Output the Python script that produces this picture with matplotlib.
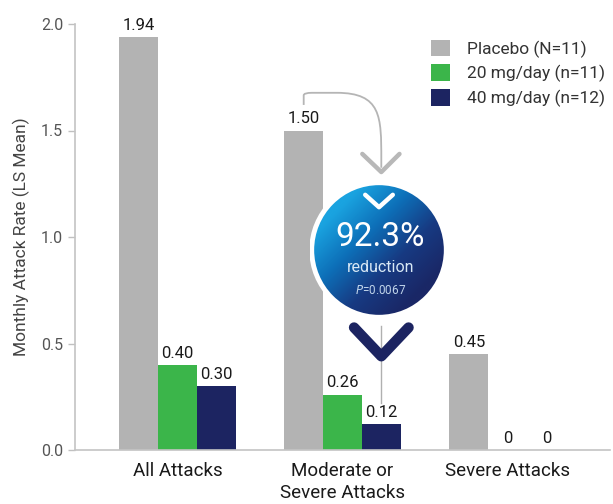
import numpy as np
import matplotlib
matplotlib.use('Agg')
import matplotlib.pyplot as plt
from matplotlib.patches import Circle
from matplotlib.path import Path
from matplotlib.patches import PathPatch
from matplotlib.colors import LinearSegmentedColormap

plt.rcParams['font.family'] = ['Roboto', 'DejaVu Sans']

# data
categories = ['All Attacks', 'Moderate or\nSevere Attacks', 'Severe Attacks']
series_names = ['Placebo (N=11)', '20 mg/day (n=11)', '40 mg/day (n=12)']
placebo = [1.94, 1.50, 0.45]
dose20 = [0.40, 0.26, 0]
dose40 = [0.30, 0.12, 0]
labels_placebo = ['1.94', '1.50', '0.45']
labels_20 = ['0.40', '0.26', '0']
labels_40 = ['0.30', '0.12', '0']
reduction_text = '92.3%'
p_value = '0.0067'

colors = ['#b3b3b3', '#3bb54a', '#1c2461']
W, H = 613, 504
fig = plt.figure(figsize=(W / 100, H / 100), dpi=100)
ax = fig.add_axes([75 / W, 1 - 450 / H, 535 / W, 426 / H])

x = np.arange(len(categories))
bw = 0.235
series = [placebo, dose20, dose40]
labels = [labels_placebo, labels_20, labels_40]
for i, (vals, lab) in enumerate(zip(series, labels)):
    xs = x + (i - 1) * bw
    ax.bar(xs, vals, width=bw, color=colors[i], label=series_names[i], zorder=2)
    for xi, v, t in zip(xs, vals, lab):
        ax.annotate(t, (xi, v), xytext=(0, 3), textcoords='offset points',
                    ha='center', va='bottom', fontsize=12, color='#1a1a1a', zorder=3)

ax.set_xlim(-0.62, 2.62)
ax.set_ylim(0, 2.0)
ax.set_yticks([0, 0.5, 1.0, 1.5, 2.0])
ax.set_yticklabels(['0.0', '0.5', '1.0', '1.5', '2.0'])
ax.set_xticks(x)
ax.set_xticklabels(categories, fontsize=13.5, color='#1a1a1a', linespacing=1.25)
ax.tick_params(axis='x', length=0, pad=9)
ax.tick_params(axis='y', labelsize=11.5, colors='#c0c0c0', labelcolor='#555555', length=5, width=1)
ax.set_ylabel('Monthly Attack Rate (LS Mean)', fontsize=12.5, color='#444444', labelpad=8)
for s in ['top', 'right']:
    ax.spines[s].set_visible(False)
for s in ['left', 'bottom']:
    ax.spines[s].set_color('#c4c4c4')
    ax.spines[s].set_linewidth(1.2)

leg = ax.legend(loc='upper right', bbox_to_anchor=(1.02, 1.0), frameon=False, fontsize=12.5,
                handlelength=1.1, handleheight=1.1, handletextpad=1.0, labelspacing=0.38)
for t in leg.get_texts():
    t.set_color('#333333')

# curved arrow from placebo bar to the reduction circle
x_pl = x[1] - bw
x_40 = x[1] + bw
y_top = placebo[1] + 0.165
verts = [(x_pl, placebo[1] + 0.12), (x_pl, y_top),
         (x_pl, y_top + 0.012), (x_pl + 0.05, y_top + 0.012),
         (x_pl + 0.2, y_top + 0.012),
         (x_40, y_top + 0.012), (x_40, y_top - 0.1), (x_40, y_top - 0.3),
         (x_40, y_top - 0.34)]
codes = [Path.MOVETO, Path.LINETO, Path.CURVE3, Path.CURVE3, Path.LINETO,
         Path.CURVE4, Path.CURVE4, Path.CURVE4, Path.LINETO]
ax.add_patch(PathPatch(Path(verts, codes), fill=False, edgecolor='#b5b5b5', lw=1.3, zorder=4))
ax.plot([x_40 - 0.115, x_40, x_40 + 0.11], [1.39, 1.305, 1.39], color='#b8b8b8',
        lw=3.2, solid_capstyle='round', solid_joinstyle='round', zorder=4)

# thin line down to the 40 mg bar
ax.plot([x_40, x_40], [0.58, dose40[1] + 0.1], color='#b0b0b0', lw=1.0, zorder=1)

# reduction circle
cx, cy, r = 379, 250, 69
cax = fig.add_axes([(cx - r) / W, 1 - (cy + r) / H, 2 * r / W, 2 * r / H])
cax.set_xlim(-1, 1)
cax.set_ylim(-1, 1)
cax.axis('off')
gx, gy = np.meshgrid(np.linspace(-1, 1, 200), np.linspace(1, -1, 200))
grad = np.clip((gx - gy) / 2.4 + 0.5, 0, 1)
cmap = LinearSegmentedColormap.from_list('blu', ['#1aa3e0', '#0d6fb8', '#173a82', '#1a2766'])
im = cax.imshow(grad, cmap=cmap, extent=(-1, 1, -1, 1), zorder=1)
clip = Circle((0, 0), 0.955, transform=cax.transData)
im.set_clip_path(clip)
cax.add_patch(Circle((0, 0), 0.975, fill=False, edgecolor='white', lw=3.5, zorder=2))
cax.plot([-0.2, 0, 0.2], [0.8, 0.62, 0.8], color='white', lw=3.2,
         solid_capstyle='round', solid_joinstyle='round', zorder=3)
cax.text(0.02, 0.19, reduction_text, ha='center', va='center', color='white', fontsize=24)
cax.text(0.02, -0.26, 'reduction', ha='center', va='center', color='#d8e8f5', fontsize=11.5)
cax.text(0.02, -0.58, r'$\it{P}$=' + p_value, ha='center', va='center', color='#c0d4ea', fontsize=8.5)

# navy chevron below the circle
ax.plot([x_40 - 0.165, x_40, x_40 + 0.165], [0.575, 0.44, 0.575], color='#1c2461',
        lw=7.5, solid_capstyle='round', solid_joinstyle='round', zorder=5)

fig.savefig('out.png', dpi=100)
